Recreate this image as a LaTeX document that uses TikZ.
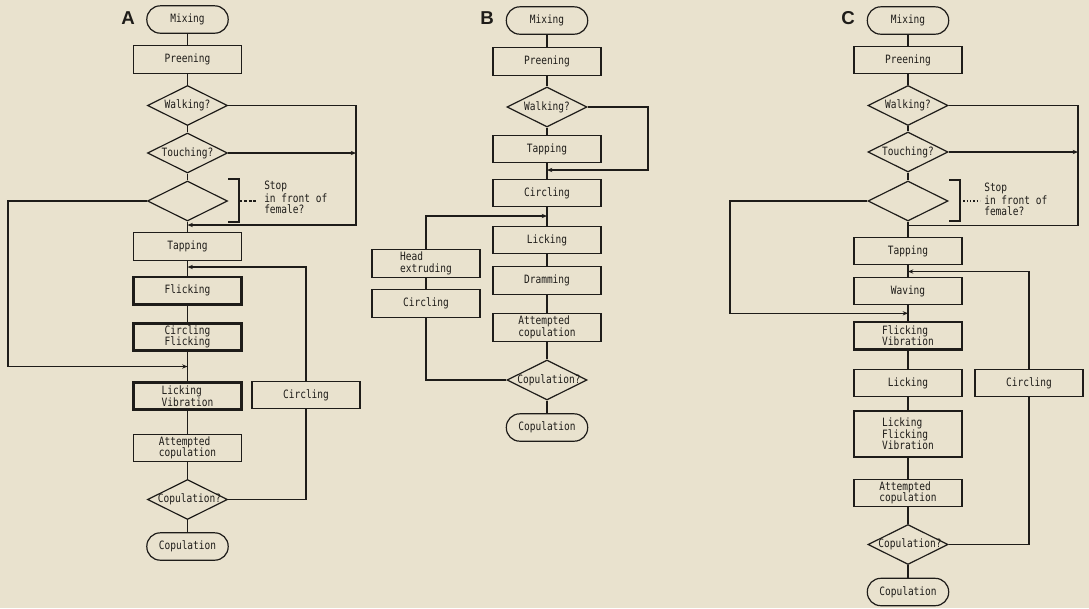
\documentclass[tikz,border=0pt]{standalone}
\usepackage{fontspec}
\setsansfont{Liberation Sans}
\newfontfamily\monof[FakeStretch=0.83]{DejaVu Sans Mono}
\usetikzlibrary{shapes.geometric,arrows.meta}
\definecolor{paper}{RGB}{233,226,206}
\definecolor{ink}{RGB}{30,28,25}
\begin{document}
\begin{tikzpicture}[x=0.75pt,y=-0.75pt,
 every node/.style={font=\monof\fontsize{8.6}{8.6}\selectfont, text=ink},
 line/.style={draw=ink, line width=0.9pt},
 arr/.style={line, -{Stealth[length=4pt,width=3.2pt]}},
 box/.style={line, rectangle, minimum width=81pt, minimum height=20.5pt, inner sep=0pt, align=left},
 boldbox/.style={box, line width=2pt},
 term/.style={line, rectangle, rounded corners=10pt, minimum width=61pt, minimum height=20.5pt, inner sep=0pt},
 dia/.style={line, diamond, aspect=2, minimum width=60pt, minimum height=30pt, inner sep=0pt},
 panel/.style={font=\sffamily\bfseries\fontsize{14}{14}\selectfont},
 side/.style={anchor=west, inner sep=0pt}]
\fill[paper] (0,0) rectangle (1089,608);
\useasboundingbox (0,0) rectangle (1089,608);

% ================= Panel A =================
\node[panel] (labA) at (128,18) {A};
\node[term] (mixA) at (187.5,19.5) {Mixing};
\node[box] (preA) at (187.5,59.5) {Preening};
\node[dia] (walkA) at (187.5,105.5) {Walking?};
\node[dia] (touchA) at (187.5,153) {Touching?};
\node[dia] (stopA) at (187.5,201) {};
\node[box] (tapA) at (187.5,246.5) {Tapping};
\node[boldbox] (flickA) at (187.5,290.5) {Flicking};
\node[boldbox] (cfA) at (187.5,337) {Circling\\Flicking};
\node[boldbox] (lvA) at (187.5,396) {Licking\\Vibration};
\node[box] (circA) at (306,395) {Circling};
\node[box] (attA) at (187.5,448) {Attempted\\copulation};
\node[dia, label={[xshift=1.5pt]center:Copulation?}] (copqA) at (187.5,499.5) {};
\node[term] (copA) at (187.5,546.5) {Copulation};

\coordinate (rA) at (356,225);
\coordinate (jA) at (187.5,225);
\coordinate (jA2) at (187.5,267);
\coordinate (lA) at (8,366.5);
\coordinate (jA3) at (187.5,366.5);

\draw[line] (mixA) -- (preA) -- (walkA) -- (touchA) -- (stopA) -- (tapA) -- (flickA) -- (cfA) -- (lvA) -- (attA) -- (copqA) -- (copA);
\draw[arr] (walkA.east) -| (rA) -- (jA);
\draw[arr] (touchA.east) -- (touchA.east -| rA);
\draw[arr] (stopA.west) -| (lA) -- (jA3);
\draw[arr] (circA.north) |- (jA2);
\draw[line] (copqA.east) -| (circA.south);

\coordinate (bA) at (239,201);
\draw[line] (228,179) -- (239,179) -- (239,222) -- (228,222);
\draw[line, dash pattern=on 2.2pt off 1.4pt] (bA) -- ++(19,0);
\node[side] (sA1) at (264,186) {Stop};
\node[side] (sA2) at (264,198.5) {in front of};
\node[side] (sA3) at (264,209) {female?};

% ================= Panel B =================
\node[panel] (labB) at (487,18) {B};
\node[term] (mixB) at (547,20.5) {Mixing};
\node[box] (preB) at (547,61.5) {Preening};
\node[dia] (walkB) at (547,107) {Walking?};
\node[box] (tapB) at (547,149) {Tapping};
\node[box] (circB) at (547,193) {Circling};
\node[box] (lickB) at (547,240) {Licking};
\node[box] (dramB) at (547,280.5) {Dramming};
\node[box] (attB) at (547,327.5) {Attempted\\copulation};
\node[dia, label={[xshift=1.5pt]center:Copulation?}] (copqB) at (547,380) {};
\node[term] (copB) at (547,427.5) {Copulation};
\node[box] (heB) at (426,263.5) {Head\\extruding};
\node[box] (circB2) at (426,303.5) {Circling};

\coordinate (rB) at (648,170);
\coordinate (jB) at (547,170);
\coordinate (jB2) at (547,216);

\draw[line] (mixB) -- (preB) -- (walkB) -- (tapB) -- (circB) -- (lickB) -- (dramB) -- (attB) -- (copqB) -- (copB);
\draw[arr] (walkB.east) -| (rB) -- (jB);
\draw[line] (copqB.west) -| (circB2.south);
\draw[line] (circB2.north) -- (heB.south);
\draw[arr] (heB.north) |- (jB2);

% ================= Panel C =================
\node[panel] (labC) at (848,18) {C};
\node[term] (mixC) at (908,20.5) {Mixing};
\node[box] (preC) at (908,60) {Preening};
\node[dia] (walkC) at (908,105.5) {Walking?};
\node[dia] (touchC) at (908,152) {Touching?};
\node[dia] (stopC) at (908,201) {};
\node[box] (tapC) at (908,251) {Tapping};
\node[box] (wavC) at (908,291) {Waving};
\node[boldbox] (fvC) at (908,335.5) {Flicking\\Vibration};
\node[box] (lickC) at (908,383) {Licking};
\node[box] (circC) at (1029,383) {Circling};
\node[boldbox, minimum height=34.5pt] (lfvC) at (908,434) {Licking\\Flicking\\Vibration};
\node[box] (attC) at (908,493) {Attempted\\copulation};
\node[dia, label={[xshift=1.5pt]center:Copulation?}] (copqC) at (908,544.5) {};
\node[term] (copC) at (908,592) {Copulation};

\coordinate (rC) at (1078,225.5);
\coordinate (jC) at (908,225.5);
\coordinate (jC2) at (908,271.5);
\coordinate (lC) at (730,313.3);
\coordinate (jC3) at (908,313.3);

\draw[line] (mixC) -- (preC) -- (walkC) -- (touchC) -- (stopC) -- (tapC) -- (wavC) -- (fvC) -- (lickC) -- (lfvC) -- (attC) -- (copqC) -- (copC);
\draw[line] (walkC.east) -| (rC) -- (jC);
\draw[arr] (touchC.east) -- (touchC.east -| rC);
\draw[arr] (stopC.west) -| (lC) -- (jC3);
\draw[arr] (circC.north) |- (jC2);
\draw[line] (copqC.east) -| (circC.south);

\coordinate (bC) at (960,201);
\draw[line] (949,180) -- (960,180) -- (960,221) -- (949,221);
\draw[line, dash pattern=on 1.1pt off 1.4pt] (bC) -- ++(20,0);
\node[side] (sC1) at (984,188) {Stop};
\node[side] (sC2) at (984,200) {in front of};
\node[side] (sC3) at (984,211) {female?};
\end{tikzpicture}
\end{document}
